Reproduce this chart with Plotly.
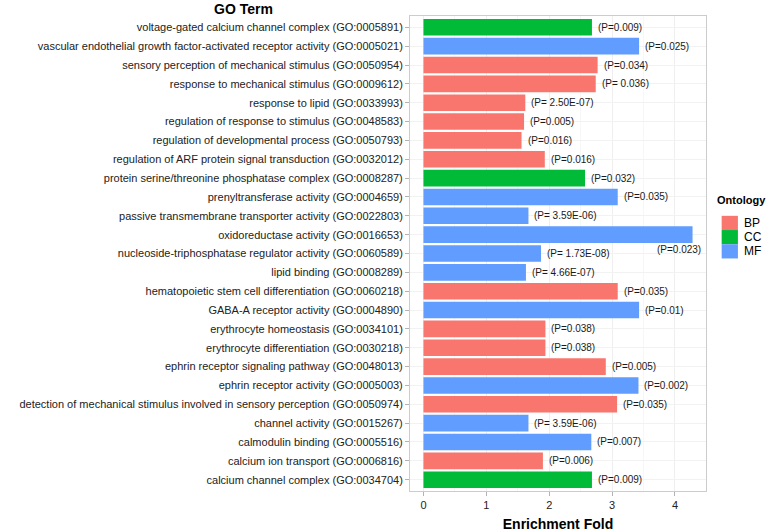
import plotly.graph_objects as go

# Data, listed top to bottom as displayed
terms = [
    "voltage-gated calcium channel complex (GO:0005891)",
    "vascular endothelial growth factor-activated receptor activity (GO:0005021)",
    "sensory perception of mechanical stimulus (GO:0050954)",
    "response to mechanical stimulus (GO:0009612)",
    "response to lipid (GO:0033993)",
    "regulation of response to stimulus (GO:0048583)",
    "regulation of developmental process (GO:0050793)",
    "regulation of ARF protein signal transduction (GO:0032012)",
    "protein serine/threonine phosphatase complex (GO:0008287)",
    "prenyltransferase activity (GO:0004659)",
    "passive transmembrane transporter activity (GO:0022803)",
    "oxidoreductase activity (GO:0016653)",
    "nucleoside-triphosphatase regulator activity (GO:0060589)",
    "lipid binding (GO:0008289)",
    "hematopoietic stem cell differentiation (GO:0060218)",
    "GABA-A receptor activity (GO:0004890)",
    "erythrocyte homeostasis (GO:0034101)",
    "erythrocyte differentiation (GO:0030218)",
    "ephrin receptor signaling pathway (GO:0048013)",
    "ephrin receptor activity (GO:0005003)",
    "detection of mechanical stimulus involved in sensory perception (GO:0050974)",
    "channel activity (GO:0015267)",
    "calmodulin binding (GO:0005516)",
    "calcium ion transport (GO:0006816)",
    "calcium channel complex (GO:0034704)",
]
ontology = ["CC", "MF", "BP", "BP", "BP", "BP", "BP", "BP", "CC", "MF", "MF", "MF", "MF",
            "MF", "BP", "MF", "BP", "BP", "BP", "MF", "BP", "MF", "MF", "BP", "CC"]
fold = [2.68, 3.43, 2.77, 2.74, 1.62, 1.60, 1.56, 1.93, 2.57, 3.09, 1.67, 4.28, 1.87,
        1.63, 3.09, 3.43, 1.94, 1.94, 2.90, 3.42, 3.08, 1.67, 2.67, 1.90, 2.68]
p_labels = ["(P=0.009)", "(P=0.025)", "(P=0.034)", "(P= 0.036)", "(P= 2.50E-07)",
            "(P=0.005)", "(P=0.016)", "(P=0.016)", "(P=0.032)", "(P=0.035)",
            "(P= 3.59E-06)", "(P=0.023)", "(P= 1.73E-08)", "(P= 4.66E-07)", "(P=0.035)",
            "(P=0.01)", "(P=0.038)", "(P=0.038)", "(P=0.005)", "(P=0.002)",
            "(P=0.035)", "(P= 3.59E-06)", "(P=0.007)", "(P=0.006)", "(P=0.009)"]
ontology_levels = ["BP", "CC", "MF"]
x_ticks = [0, 1, 2, 3, 4]

colors = {"BP": "#F8766D", "CC": "#00BA38", "MF": "#619CFF"}
FONT = "Liberation Sans, Arial, sans-serif"

W, H = 766, 532
ML, MR, MT, MB = 409.5, 59.7, 16, 41.3
PW, PH = W - ML - MR, H - MT - MB


def px_x(px):
    return (px - ML) / PW


def px_y(py):
    return 1 - (py - MT) / PH


# bottom-to-top order for the plotly category axis
cat_order = terms[::-1]

fig = go.Figure()
for ont in ontology_levels:
    idx = [i for i, o in enumerate(ontology) if o == ont]
    fig.add_trace(go.Bar(
        x=[fold[i] for i in idx],
        y=[terms[i] for i in idx],
        orientation="h",
        name=ont,
        marker=dict(color=colors[ont], line=dict(width=0)),
        width=0.88,
        hoverinfo="x+y",
        showlegend=False,
    ))

annotations = []
for t, v, lab in zip(terms, fold, p_labels):
    if v > 0.95 * max(fold):
        annotations.append(dict(x=v, y=t, xref="x", yref="y", text=lab, showarrow=False,
                                xanchor="right", xshift=10, yshift=-15,
                                font=dict(family=FONT, size=10, color="#1a1a1a")))
    else:
        annotations.append(dict(x=v, y=t, xref="x", yref="y", text=lab, showarrow=False,
                                xanchor="left", xshift=4,
                                font=dict(family=FONT, size=10, color="#1a1a1a")))

annotations.append(dict(text="<b>GO Term</b>", xref="paper", yref="paper",
                        x=px_x(243), y=px_y(0),
                        xanchor="center", yanchor="top", showarrow=False, borderpad=0,
                        font=dict(family=FONT, size=14, color="#000")))

# legend (ggplot-style keys)
shapes = []
annotations.append(dict(text="<b>Ontology</b>", xref="paper", yref="paper",
                        x=px_x(715), y=px_y(200), xanchor="left", yanchor="middle",
                        showarrow=False, font=dict(family=FONT, size=11, color="#000")))
key_top, key_h = 215.7, 14.2
for k, ont in enumerate(ontology_levels):
    y0 = key_top + k * key_h
    shapes.append(dict(type="rect", xref="paper", yref="paper",
                       x0=px_x(722), x1=px_x(738.3), y0=px_y(y0 + key_h), y1=px_y(y0),
                       fillcolor=colors[ont], line=dict(width=0)))
    annotations.append(dict(text=ont, xref="paper", yref="paper",
                            x=px_x(742.5), y=px_y(y0 + key_h / 2), xanchor="left",
                            yanchor="middle", showarrow=False,
                            font=dict(family=FONT, size=12, color="#000")))

fig.update_layout(
    width=W, height=H,
    margin=dict(l=ML, r=MR, t=MT, b=MB, autoexpand=False),
    paper_bgcolor="white", plot_bgcolor="white",
    barmode="overlay",
    font=dict(family=FONT, size=11, color="#222"),
    showlegend=False,
    xaxis=dict(
        range=[-0.05 * max(fold), max(fold) * 1.05],
        tickvals=x_ticks, ticktext=[str(v) for v in x_ticks],
        ticks="outside", ticklen=4, tickcolor="#b3b3b3",
        tickfont=dict(family=FONT, size=11, color="#222"),
        showgrid=True, gridcolor="#efefef", gridwidth=0.6,
        minor=dict(dtick=0.5, showgrid=True, gridcolor="#f7f7f7", gridwidth=0.4),
        showline=True, mirror=True, linecolor="#cccccc", linewidth=1,
        zeroline=False,
        title=dict(text="<b>Enrichment Fold</b>", font=dict(family=FONT, size=14, color="#000"),
                   standoff=10),
    ),
    yaxis=dict(
        type="category", categoryorder="array", categoryarray=cat_order,
        range=[-0.6, len(terms) - 0.4],
        ticks="outside", ticklen=4, tickcolor="#b3b3b3",
        tickfont=dict(family=FONT, size=11, color="#222"),
        showgrid=True, gridcolor="#f2f2f2", gridwidth=0.6,
        showline=True, mirror=True, linecolor="#cccccc", linewidth=1,
    ),
    annotations=annotations,
    shapes=shapes,
)

fig.write_html("out.html", config={"displayModeBar": False},
               post_script="document.body.style.margin='0';document.body.style.overflow='hidden';")
